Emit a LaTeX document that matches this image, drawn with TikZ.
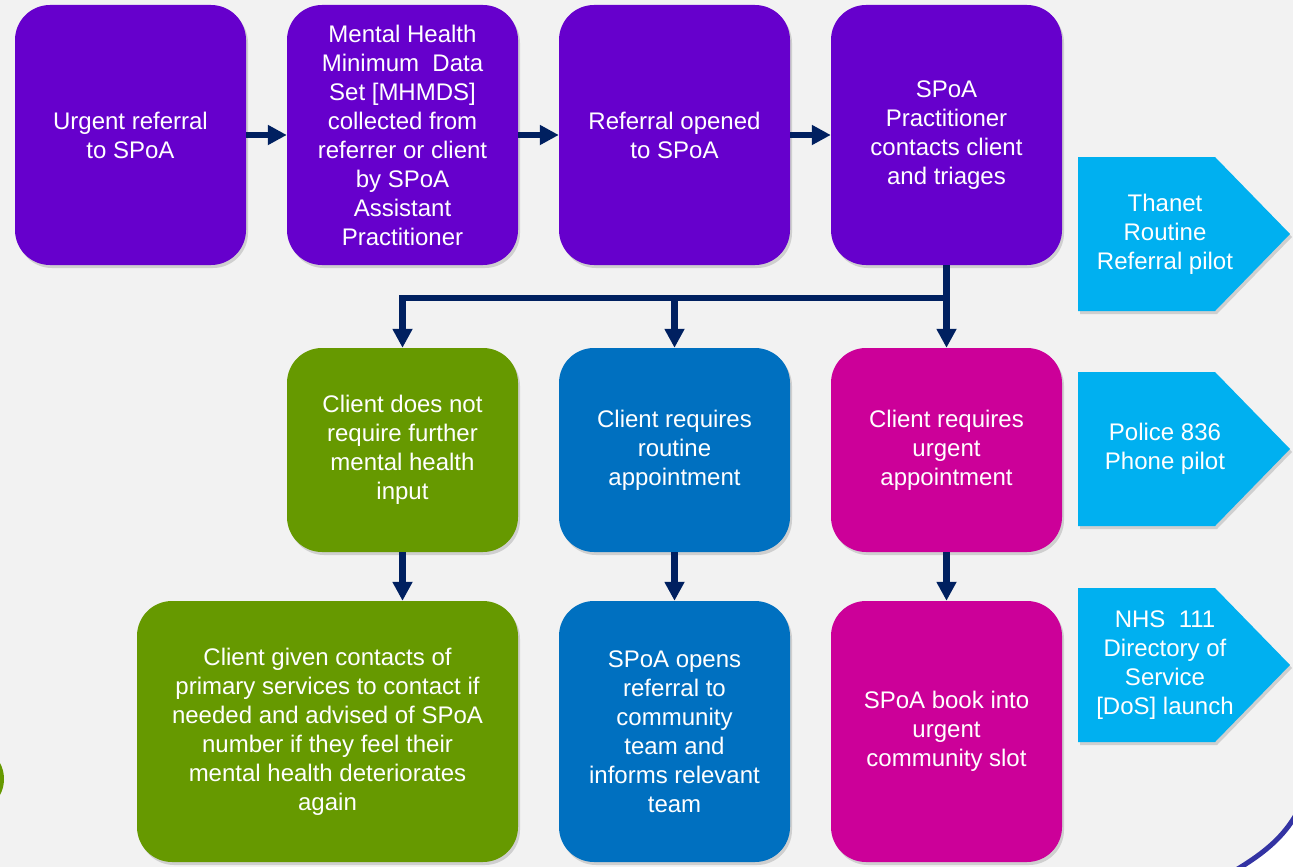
\documentclass[tikz,border=0pt]{standalone}
\usepackage{fontspec}
\setmainfont{Liberation Sans}
\usetikzlibrary{arrows.meta,shadows}

\definecolor{spoapurple}{HTML}{6600CC}
\definecolor{spoagreen}{HTML}{669900}
\definecolor{spoablue}{HTML}{0070C0}
\definecolor{spoapink}{HTML}{CC0099}
\definecolor{spoacyan}{HTML}{00B0F0}
\definecolor{spoanavy}{HTML}{002060}
\definecolor{spoaring}{HTML}{3333A3}
\definecolor{spoabg}{HTML}{F2F2F2}

\tikzset{
  box/.style={rounded corners=35pt, minimum width=231pt, inner sep=0pt, text=white,
    align=center, font=\fontsize{24}{29}\selectfont,
    drop shadow={opacity=0.3, shadow xshift=2pt, shadow yshift=-3pt}},
  tag/.style={fill=spoacyan, drop shadow={opacity=0.3, shadow xshift=2pt, shadow yshift=-3pt}},
  tagtext/.style={text=white, align=center, font=\fontsize{24}{29}\selectfont},
  link/.style={draw=spoanavy, line width=6.5pt, -{Triangle[length=19pt,width=19pt]}}
}

\begin{document}
\begin{tikzpicture}[x=1pt,y=-1pt]
	% Hintergrund
	\useasboundingbox (0,0) rectangle (1293,867);
	\fill[spoabg] (0,0) rectangle (1293,867);
	\fill[white] (1236,867) .. controls (1266,850) and (1284,834) .. (1296,814) -- (1293,867) -- cycle;
	\draw[spoaring, line width=5pt] (1236,870) .. controls (1266,852) and (1284,836) .. (1297,813);
	\fill[spoagreen] (-30,779) circle (34);
	% obere Reihe
	\node[box, fill=spoapurple, minimum height=260pt] (t1) at (130.5,135) {Urgent referral\\to SPoA};
	\node[box, fill=spoapurple, minimum height=260pt] (t2) at (402.5,135) {Mental Health\\Minimum~ Data\\Set [MHMDS]\\collected from\\referrer or client\\by SPoA\\Assistant\\Practitioner};
	\node[box, fill=spoapurple, minimum height=260pt] (t3) at (674.5,135) {Referral opened\\to SPoA};
	\node[box, fill=spoapurple, minimum height=260pt] (t4) at (946.5,135) {SPoA\\Practitioner\\contacts client\\and triages};
	% mittlere Reihe
	\node[box, fill=spoagreen, minimum height=204pt] (g1) at (402.5,450) {Client does not\\require further\\mental health\\input};
	\node[box, fill=spoablue, minimum height=204pt] (b1) at (674.5,450) {Client requires\\routine\\appointment};
	\node[box, fill=spoapink, minimum height=204pt] (u1) at (946.5,450) {Client requires\\urgent\\appointment};
	% untere Reihe
	\node[box, fill=spoagreen, minimum height=261pt, minimum width=381pt] (g2) at (327.5,731.5) {Client given contacts of\\primary services to contact if\\needed and advised of SPoA\\number if they feel their\\mental health deteriorates\\again};
	\node[box, fill=spoablue, minimum height=261pt] (b2) at (674.5,731.5) {SPoA opens\\referral to\\community\\team and\\informs relevant\\team};
	\node[box, fill=spoapink, minimum height=261pt] (u2) at (946.5,731.5) {SPoA book into\\urgent\\community slot};
	% Pfeile oben
	\draw[link] (t1) -- (t2);
	\draw[link] (t2) -- (t3);
	\draw[link] (t3) -- (t4);
	% Verzweigung
	\coordinate (bus) at (946.5,298);
	\draw[link] (t4.south) -- (u1.north);
	\draw[link, line join=miter] (bus) -| (g1.north);
	\draw[link] (b1.north |- bus) -- (b1.north);
	\draw[link] (g1.south) -- (g1.south |- g2.north);
	\draw[link] (b1) -- (b2);
	\draw[link] (u1) -- (u2);
	% Pilote rechts
	\fill[tag] (1078,157) -- (1215,157) -- (1290,234) -- (1215,311) -- (1078,311) -- cycle;
	\node[tagtext] (p1) at (1165,234) {Thanet\\Routine\\Referral pilot};
	\fill[tag] (1078,372) -- (1215,372) -- (1290,449) -- (1215,526) -- (1078,526) -- cycle;
	\node[tagtext] (p2) at (1165,449) {Police 836\\Phone pilot};
	\fill[tag] (1078,588) -- (1215,588) -- (1290,665) -- (1215,742) -- (1078,742) -- cycle;
	\node[tagtext] (p3) at (1165,665) {NHS~ 111\\Directory of\\Service\\{[DoS]} launch};
\end{tikzpicture}
\end{document}
